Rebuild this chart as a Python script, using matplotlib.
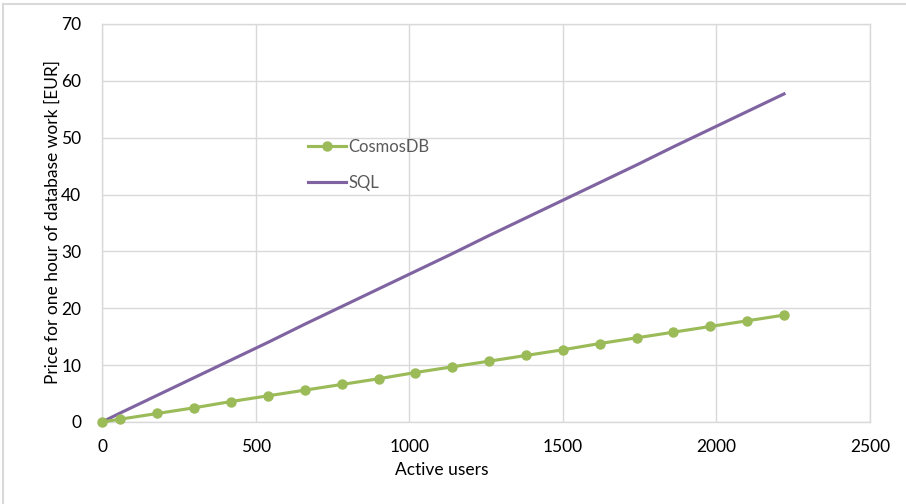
import matplotlib
matplotlib.use("Agg")
import matplotlib.pyplot as plt
from matplotlib.lines import Line2D

plt.rcParams['font.family'] = ['Lato', 'DejaVu Sans']

# active users at each sample
users = [0, 60, 180, 300, 420, 540, 660, 780, 900, 1020,
         1140, 1260, 1380, 1500, 1620, 1740, 1860, 1980, 2100, 2220]

# hourly price in EUR
cosmos_price = [0, 0.5, 1.5, 2.5, 3.6, 4.6, 5.6, 6.6, 7.6, 8.7,
                9.7, 10.7, 11.7, 12.7, 13.8, 14.8, 15.8, 16.8, 17.8, 18.8]
sql_price = [0, 1.6, 4.7, 7.8, 10.9, 14.0, 17.2, 20.3, 23.4, 26.5,
             29.6, 32.8, 35.9, 39.0, 42.1, 45.2, 48.4, 51.5, 54.6, 57.7]

x_ticks = [0, 500, 1000, 1500, 2000, 2500]
y_ticks = [0, 10, 20, 30, 40, 50, 60, 70]

green = "#9BBB59"
purple = "#8064A2"
grid_c = "#D9D9D9"

fig = plt.figure(figsize=(9.06, 5.04), dpi=100)
ax = fig.add_axes([0.1126, 0.1627, 0.8477, 0.7897])

ax.plot(users, sql_price, color=purple, lw=2.25, zorder=3, label="SQL")
ax.plot(users, cosmos_price, color=green, lw=2.25, marker="o", ms=6.5,
        zorder=4, clip_on=False, label="CosmosDB")

ax.set_xlim(0, 2500)
ax.set_ylim(0, 70)
ax.set_xticks(x_ticks)
ax.set_yticks(y_ticks)
ax.grid(True, color=grid_c, lw=1)
ax.set_axisbelow(True)
for s in ax.spines.values():
    s.set_color(grid_c)
    s.set_linewidth(1)
ax.tick_params(length=0, labelsize=12.5, colors="#000000")
ax.tick_params(axis="x", pad=12)
ax.tick_params(axis="y", pad=15)

# axis titles placed directly in figure coordinates
fig.text(442 / 906, 1 - 470 / 504, "Active users", fontsize=12.5,
         ha="center", va="center")
fig.text(53 / 906, 1 - 222 / 504, "Price for one hour of database work [EUR]",
         fontsize=12.5, rotation=90, ha="center", va="center")

handles = [Line2D([], [], color=green, lw=2.25, marker="o", ms=6.5),
           Line2D([], [], color=purple, lw=2.25)]
leg = ax.legend(handles, ["CosmosDB", "SQL"], frameon=False, fontsize=12,
                loc="upper left", bbox_to_anchor=(0.257, 0.732),
                handlelength=2.3, handletextpad=0.15, labelspacing=1.2,
                borderpad=0)
for t in leg.get_texts():
    t.set_color("#595959")

# screenshot frame edges
fig.add_artist(Line2D([3 / 906, 3 / 906], [0, 1 - 4 / 504],
                      transform=fig.transFigure, color=grid_c, lw=1.5))
fig.add_artist(Line2D([3 / 906, 1], [1 - 4 / 504, 1 - 4 / 504],
                      transform=fig.transFigure, color=grid_c, lw=1.5))

fig.savefig("out.png", dpi=100)
